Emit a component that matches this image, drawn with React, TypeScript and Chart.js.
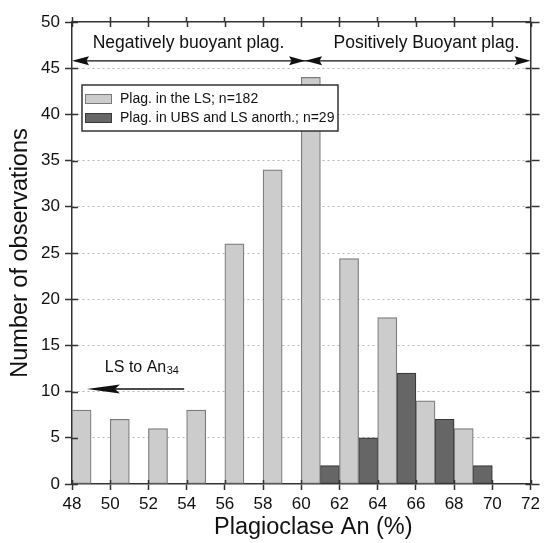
import React, { useEffect, useRef } from 'react';
import { Chart, registerables } from 'chart.js';

Chart.register(...registerables);

// ---- data ----
const lsBinStarts = [48, 50, 52, 54, 56, 58, 60, 62, 64, 66, 68];
const lsCounts = [8, 7, 6, 8, 26, 34, 44, 24.4, 18, 9, 6];
const ubsBinStarts = [61, 63, 65, 67, 69];
const ubsCounts = [2, 5, 12, 7, 2];
const seriesLabels = ['Plag. in the LS; n=182', 'Plag. in UBS and LS anorth.; n=29'];
const xMin = 48;
const xMax = 72;
const xStep = 2;
const yMin = 0;
const yMax = 50;
const yStep = 5;
const binWidth = 1;
const xTitle = 'Plagioclase An (%)';
const yTitle = 'Number of observations';
const negText = 'Negatively buoyant plag.';
const posText = 'Positively Buoyant plag.';
const lsText = 'LS to An';
const lsSub = '34';

const FONT = '"Liberation Sans", Arial, sans-serif';
const AXIS = '#333333';

function arrowHead(ctx: CanvasRenderingContext2D, tipX: number, y: number, dir: number, len: number, half: number) {
  ctx.beginPath();
  ctx.moveTo(tipX, y);
  ctx.lineTo(tipX + dir * len, y - half);
  ctx.lineTo(tipX + dir * len * 0.85, y);
  ctx.lineTo(tipX + dir * len, y + half);
  ctx.closePath();
  ctx.fill();
}

const annotationPlugin = {
  id: 'annotations',
  afterDatasetsDraw(chart: any) {
    const { ctx, chartArea } = chart;
    const ds = chart.data.datasets;
    // legend box
    const bx = chartArea.left + 10;
    const by = chartArea.top + 63;
    const bw = 256;
    const bh = 46;
    ctx.save();
    ctx.fillStyle = '#ffffff';
    ctx.fillRect(bx, by, bw, bh);
    ctx.strokeStyle = '#333333';
    ctx.lineWidth = 1.5;
    ctx.strokeRect(bx, by, bw, bh);
    ctx.font = `14px ${FONT}`;
    ctx.textBaseline = 'middle';
    ctx.textAlign = 'left';
    for (let i = 0; i < ds.length; i++) {
      const sy = by + 9 + i * 19;
      ctx.fillStyle = ds[i].backgroundColor;
      ctx.fillRect(bx + 3, sy, 27, 10);
      ctx.strokeStyle = ds[i].borderColor;
      ctx.lineWidth = 1;
      ctx.strokeRect(bx + 3.5, sy + 0.5, 26, 9);
      ctx.fillStyle = '#111';
      ctx.fillText(ds[i].label, bx + 38, sy + 5);
    }
    ctx.restore();
  },
  afterDraw(chart: any) {
    const { ctx, chartArea } = chart;
    const xs = chart.scales.x;
    const ys = chart.scales.y;
    ctx.save();
    // inner tick marks
    ctx.strokeStyle = AXIS;
    ctx.lineWidth = 1.5;
    ctx.beginPath();
    for (const t of ys.ticks) {
      const py = Math.round(ys.getPixelForValue(t.value)) + 0.5;
      ctx.moveTo(chartArea.left, py);
      ctx.lineTo(chartArea.left + 6, py);
      ctx.moveTo(chartArea.right - 5, py);
      ctx.lineTo(chartArea.right, py);
    }
    for (const t of xs.ticks) {
      const px = Math.round(xs.getPixelForValue(t.value)) + 0.5;
      ctx.moveTo(px, chartArea.bottom);
      ctx.lineTo(px, chartArea.bottom - 4);
      ctx.moveTo(px, chartArea.top);
      ctx.lineTo(px, chartArea.top + 5);
    }
    ctx.stroke();

    // buoyancy arrows
    const ay = ys.getPixelForValue(45.8);
    const xL = xs.getPixelForValue(48);
    const xM = xs.getPixelForValue(60.2);
    const xR = xs.getPixelForValue(72);
    ctx.strokeStyle = '#111';
    ctx.fillStyle = '#111';
    ctx.lineWidth = 1.3;
    ctx.beginPath();
    ctx.moveTo(xL + 8, ay);
    ctx.lineTo(xR - 8, ay);
    ctx.stroke();
    arrowHead(ctx, xL, ay, 1, 17, 4.5);
    arrowHead(ctx, xM, ay, -1, 16, 4.5);
    arrowHead(ctx, xM, ay, 1, 17, 4.5);
    arrowHead(ctx, xR, ay, -1, 16, 4.5);

    ctx.font = `17.5px ${FONT}`;
    ctx.textAlign = 'center';
    ctx.textBaseline = 'middle';
    const ty = ys.getPixelForValue(47.7);
    ctx.fillText(negText, xs.getPixelForValue(54.1), ty);
    ctx.fillText(posText, xs.getPixelForValue(66.55), ty);

    // LS arrow
    const ly = ys.getPixelForValue(10.28);
    const lTip = xs.getPixelForValue(48.78);
    const lTail = xs.getPixelForValue(53.87);
    ctx.beginPath();
    ctx.moveTo(lTip + 20, ly);
    ctx.lineTo(lTail, ly);
    ctx.stroke();
    arrowHead(ctx, lTip, ly, 1, 33, 4.5);

    ctx.textAlign = 'left';
    ctx.font = `16px ${FONT}`;
    const lx = xs.getPixelForValue(49.72);
    const lty = ys.getPixelForValue(12.65);
    ctx.fillText(lsText, lx, lty);
    const w = ctx.measureText(lsText).width;
    ctx.font = `11px ${FONT}`;
    ctx.fillText(lsSub, lx + w + 0.5, lty + 4);

    // x title
    ctx.font = `23.5px ${FONT}`;
    ctx.textAlign = 'center';
    ctx.fillStyle = '#111';
    ctx.fillText(xTitle, (chartArea.left + chartArea.right) / 2 + 12, 528);
    ctx.restore();
  },
};

export default function App() {
  const ref = useRef<HTMLCanvasElement | null>(null);
  useEffect(() => {
    if (!ref.current) return;
    const tickFont = { family: FONT, size: 17 };
    const chart = new Chart(ref.current, {
      type: 'bar',
      data: {
        datasets: [
          {
            label: seriesLabels[0],
            data: lsBinStarts.map((b, i) => ({ x: b + binWidth / 2, y: lsCounts[i] })),
            backgroundColor: '#cccccc',
            borderColor: '#7a7a7a',
            borderWidth: 1.2,
            borderSkipped: false,
            grouped: false,
            barPercentage: 1,
            categoryPercentage: 1,
            xAxisID: 'x',
            yAxisID: 'y',
          },
          {
            label: seriesLabels[1],
            data: ubsBinStarts.map((b, i) => ({ x: b + binWidth / 2, y: ubsCounts[i] })),
            backgroundColor: '#666666',
            borderColor: '#3a3a3a',
            borderWidth: 1.2,
            borderSkipped: false,
            grouped: false,
            barPercentage: 1,
            categoryPercentage: 1,
            xAxisID: 'x',
            yAxisID: 'y',
          },
        ],
      } as any,
      options: {
        responsive: false,
        animation: false,
        layout: { padding: 0 },
        plugins: { legend: { display: false }, tooltip: { enabled: false }, title: { display: false } },
        scales: {
          x: {
            type: 'linear',
            position: 'bottom',
            min: xMin,
            max: xMax,
            offset: false,
            ticks: { stepSize: xStep, color: '#111', font: tickFont, padding: 4, maxRotation: 0 },
            grid: { drawOnChartArea: false, offset: false, tickLength: 6, tickColor: AXIS, tickWidth: 1.5 },
            border: { display: true, color: AXIS, width: 1.5 },
            afterFit: (s: any) => { s.height = 59; },
          },
          x2: {
            type: 'linear',
            position: 'top',
            min: xMin,
            max: xMax,
            offset: false,
            ticks: { stepSize: xStep, display: false },
            grid: { drawOnChartArea: false, offset: false, tickLength: 5, tickColor: AXIS, tickWidth: 1.5 },
            border: { display: true, color: AXIS, width: 1.5 },
            afterFit: (s: any) => { s.height = 22; },
          },
          y: {
            type: 'linear',
            position: 'left',
            min: yMin,
            max: yMax,
            ticks: { stepSize: yStep, color: '#111', font: tickFont, padding: 5 },
            grid: {
              drawOnChartArea: true,
              color: (c: any) => (c.tick && (c.tick.value === yMin || c.tick.value === yMax) ? 'rgba(0,0,0,0)' : '#b5b5b5'),
              lineWidth: 1,
              tickLength: 7,
              tickColor: AXIS,
              tickWidth: 1.5,
            },
            border: { display: true, color: AXIS, width: 1.5, dash: [2, 3] },
            title: { display: true, text: yTitle, color: '#111', font: { family: FONT, size: 23.5 }, padding: { top: 6, bottom: 0 } },
            afterFit: (s: any) => { s.width = 72; },
          },
          y2: {
            type: 'linear',
            position: 'right',
            min: yMin,
            max: yMax,
            ticks: { stepSize: yStep, display: false },
            grid: { drawOnChartArea: false, tickLength: 9, tickColor: AXIS, tickWidth: 1.5 },
            border: { display: true, color: AXIS, width: 1.5 },
            afterFit: (s: any) => { s.width = 10; },
          },
        },
      } as any,
      plugins: [annotationPlugin],
    });
    return () => chart.destroy();
  }, []);
  return (
    <div style={{ position: 'fixed', left: 0, top: 0, width: 544, height: 543, background: '#fff' }}>
      <canvas ref={ref} width={544} height={543} style={{ display: 'block' }} />
    </div>
  );
}
